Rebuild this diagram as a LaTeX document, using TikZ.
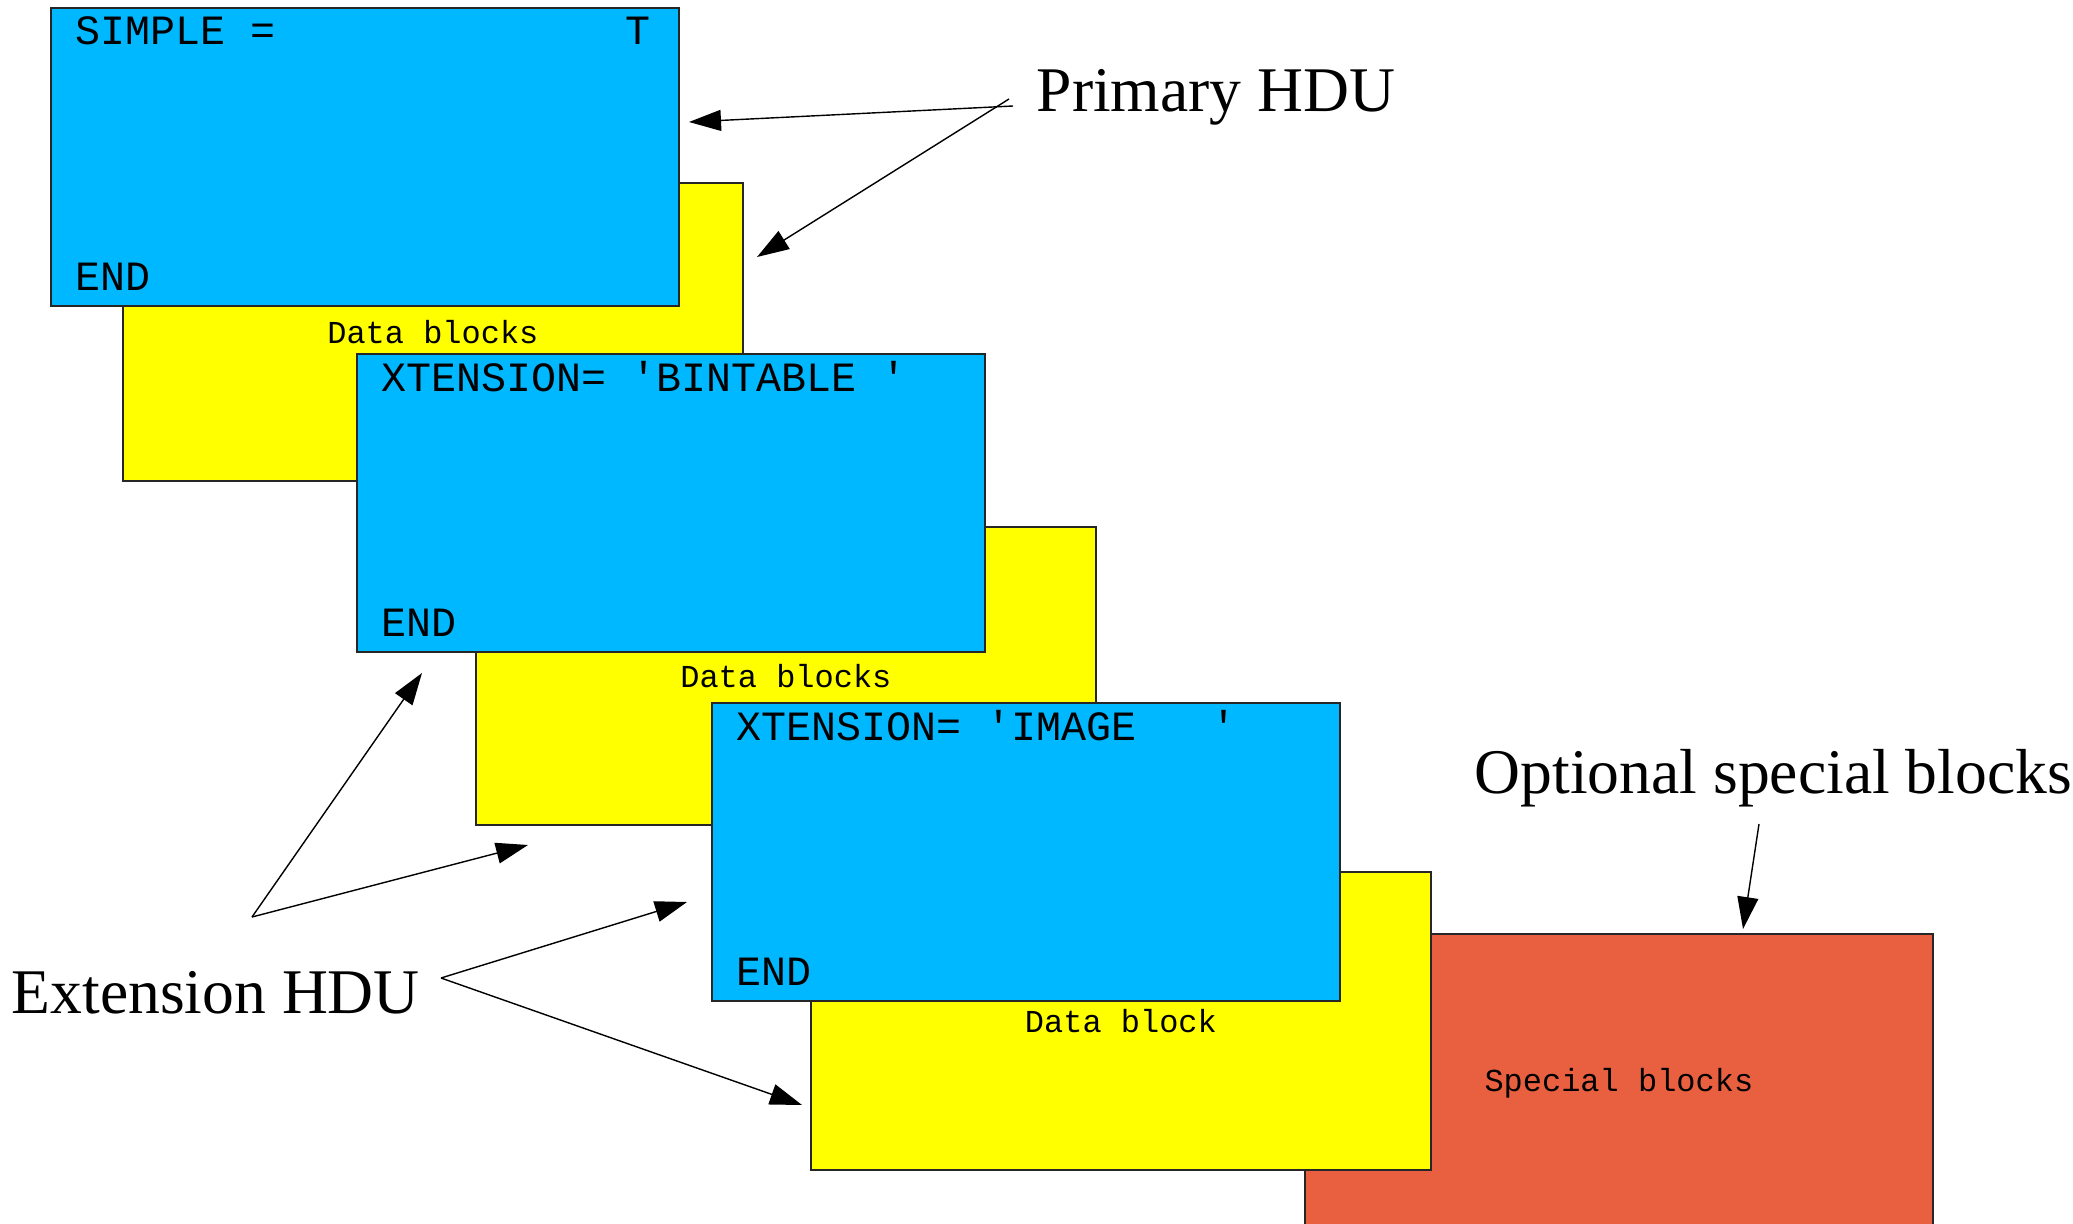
\documentclass[tikz,border=0pt]{standalone}
\usepackage{fontspec}
\setmainfont{Liberation Serif}
\setmonofont{Liberation Mono}
\usepackage{tikz}
\usetikzlibrary{arrows.meta, positioning}
\definecolor{hduBlue}{RGB}{0,184,255}
\definecolor{hduYellow}{RGB}{255,255,0}
\definecolor{hduRed}{RGB}{233,96,64}
\newcommand{\hduArrow}{{Triangle[length=3.2mm, width=2.1mm]}}

\begin{document}
\begin{tikzpicture}[
	hdubox/.style={draw=black!85, line width=0.5pt, minimum width=6.28cm, minimum height=2.98cm, anchor=north west, inner sep=0pt},
	hdrbox/.style={hdubox, fill=hduBlue},
	datbox/.style={hdubox, minimum width=6.20cm, fill=hduYellow, font=\ttfamily\fontsize{9.1}{11}\selectfont},
	spcbox/.style={hdubox, fill=hduRed, font=\ttfamily\fontsize{9.1}{11}\selectfont},
	cardtext/.style={font=\ttfamily\fontsize{11.85}{14}\selectfont, inner sep=0pt, anchor=base west},
	hdutag/.style={font=\fontsize{18.1}{22}\selectfont, inner sep=0pt, anchor=base west}]
	\useasboundingbox (0,0) rectangle (20.73,12.23);

	% boxes, back to front
	\node[datbox] (dat1) at (1.22,10.41) {Data blocks};
	\node[hdrbox] (hdr1) at (0.50,12.16) {};
	\node[datbox] (dat2) at (4.75,6.97) {Data blocks};
	\node[hdrbox] (hdr2) at (3.56,8.70) {};
	\node[spcbox] (spc)  at (13.04,2.90) {Special blocks};
	\node[datbox] (dat3) at (8.10,3.52) {Data block};
	\node[hdrbox] (hdr3) at (7.11,5.21) {};

	\foreach \n/\kw in {1/{SIMPLE~=~~~~~~~~~~~~~~T}, 2/{XTENSION=~'BINTABLE~'}, 3/{XTENSION=~'IMAGE~~~'}} {
		\node[cardtext, xshift=2.5mm, yshift=-3.8mm] (key\n) at (hdr\n.north west) {\kw};
		\node[cardtext, xshift=2.5mm, yshift=1.6mm]  (end\n) at (hdr\n.south west) {END};
	}

	% labels
	\node[hdutag] (prim) at (10.36,11.11) {Primary HDU};
	\node[hdutag] (ext)  at (0.11,2.10)   {Extension HDU};
	\node[hdutag] (opt)  at (14.74,4.30)  {Optional special blocks};

	\coordinate (P1) at (10.13,11.17);
	\coordinate (P2) at (10.09,11.24);
	\coordinate (PA) at (6.89,11.01);
	\coordinate (PB) at (7.57,9.66);
	\coordinate (E1) at (2.52,3.06);
	\coordinate (EA) at (4.22,5.50);
	\coordinate (EB) at (5.28,3.78);
	\coordinate (E2) at (4.41,2.45);
	\coordinate (EC) at (6.87,3.21);
	\coordinate (ED) at (8.02,1.18);
	\coordinate (O1) at (17.59,3.99);
	\coordinate (OA) at (17.43,2.94);

	\foreach \from/\to in {P1/PA, P2/PB, E1/EA, E1/EB, E2/EC, E2/ED, O1/OA} {
		\draw[line width=0.4pt, -\hduArrow] (\from) -- (\to);
	}

\end{tikzpicture}
\end{document}
